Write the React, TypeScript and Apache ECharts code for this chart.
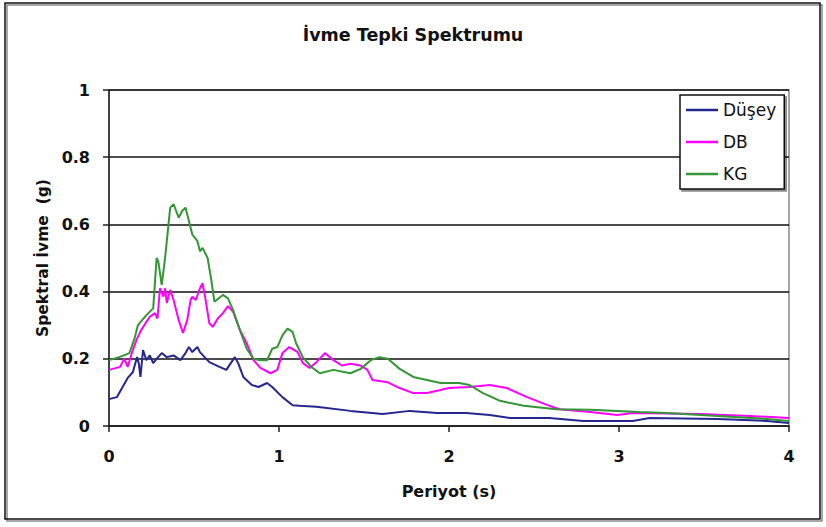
import React, { useEffect, useRef } from "react";
import * as echarts from "echarts";

const titleText = "İvme Tepki Spektrumu";
const xAxisName = "Periyot (s)";
const yAxisName = "Spektral İvme  (g)";
const seriesNames = ["Düşey", "DB", "KG"];
const xTicks = [0, 1, 2, 3, 4];
const yTicks = [0, 0.2, 0.4, 0.6, 0.8, 1];

const dusX = [0.0, 0.047, 0.08, 0.11, 0.14, 0.165, 0.175, 0.185, 0.2, 0.22, 0.24, 0.26, 0.28, 0.31, 0.34, 0.38, 0.42, 0.45, 0.47, 0.49, 0.52, 0.535, 0.59, 0.65, 0.69, 0.74, 0.76, 0.79, 0.84, 0.88, 0.93, 0.96, 1.02, 1.08, 1.12, 1.22, 1.42, 1.61, 1.77, 1.93, 2.1, 2.24, 2.36, 2.59, 2.79, 3.08, 3.18, 3.58, 3.87, 4.0];
const dusY = [0.08, 0.086, 0.116, 0.143, 0.16, 0.205, 0.187, 0.146, 0.226, 0.196, 0.21, 0.187, 0.2, 0.217, 0.205, 0.21, 0.196, 0.217, 0.235, 0.22, 0.235, 0.22, 0.19, 0.176, 0.167, 0.205, 0.187, 0.146, 0.122, 0.116, 0.128, 0.116, 0.086, 0.062, 0.06, 0.057, 0.045, 0.036, 0.045, 0.039, 0.039, 0.033, 0.024, 0.024, 0.015, 0.015, 0.024, 0.021, 0.015, 0.009];

const dbX = [0.0, 0.065, 0.09, 0.11, 0.14, 0.165, 0.19, 0.22, 0.24, 0.27, 0.285, 0.3, 0.32, 0.33, 0.34, 0.36, 0.38, 0.41, 0.435, 0.46, 0.48, 0.49, 0.51, 0.535, 0.55, 0.565, 0.59, 0.61, 0.64, 0.67, 0.7, 0.73, 0.77, 0.81, 0.85, 0.89, 0.95, 0.99, 1.02, 1.06, 1.11, 1.14, 1.18, 1.22, 1.27, 1.32, 1.37, 1.42, 1.48, 1.52, 1.55, 1.64, 1.71, 1.79, 1.87, 1.95, 2.0, 2.12, 2.24, 2.34, 2.46, 2.58, 2.65, 2.83, 2.99, 3.08, 3.48, 3.77, 4.0];
const dbY = [0.167, 0.176, 0.2, 0.176, 0.226, 0.26, 0.286, 0.31, 0.325, 0.336, 0.32, 0.41, 0.385, 0.41, 0.366, 0.405, 0.375, 0.315, 0.277, 0.315, 0.375, 0.385, 0.375, 0.41, 0.425, 0.385, 0.306, 0.295, 0.32, 0.336, 0.357, 0.34, 0.286, 0.247, 0.196, 0.173, 0.157, 0.167, 0.217, 0.235, 0.22, 0.187, 0.173, 0.19, 0.217, 0.196, 0.18, 0.185, 0.18, 0.167, 0.137, 0.13, 0.113, 0.098, 0.098, 0.107, 0.113, 0.116, 0.122, 0.113, 0.086, 0.062, 0.05, 0.042, 0.033, 0.039, 0.036, 0.03, 0.024];

const kgX = [0.0, 0.06, 0.12, 0.15, 0.17, 0.22, 0.26, 0.28, 0.29, 0.31, 0.33, 0.36, 0.38, 0.41, 0.43, 0.45, 0.47, 0.49, 0.52, 0.535, 0.55, 0.58, 0.6, 0.62, 0.67, 0.7, 0.73, 0.77, 0.81, 0.85, 0.89, 0.93, 0.96, 0.99, 1.02, 1.05, 1.08, 1.1, 1.14, 1.19, 1.24, 1.32, 1.42, 1.48, 1.54, 1.59, 1.64, 1.71, 1.79, 1.87, 1.95, 2.06, 2.12, 2.2, 2.3, 2.44, 2.63, 2.83, 2.99, 3.12, 3.28, 3.58, 3.87, 4.0];
const kgY = [0.196, 0.205, 0.217, 0.26, 0.3, 0.33, 0.35, 0.5, 0.49, 0.42, 0.5, 0.65, 0.66, 0.62, 0.64, 0.65, 0.61, 0.57, 0.55, 0.52, 0.53, 0.5, 0.44, 0.37, 0.39, 0.38, 0.345, 0.285, 0.23, 0.2, 0.196, 0.196, 0.23, 0.235, 0.27, 0.29, 0.28, 0.247, 0.205, 0.176, 0.157, 0.167, 0.157, 0.17, 0.196, 0.205, 0.2, 0.17, 0.146, 0.137, 0.128, 0.128, 0.122, 0.098, 0.075, 0.06, 0.05, 0.048, 0.045, 0.042, 0.039, 0.03, 0.021, 0.015];

const colors = ["#26268f", "#ff00ff", "#349634"];

const zip = (xs: number[], ys: number[]) => xs.map((x, i) => [x, ys[i]]);

export default function App() {
  const ref = useRef<HTMLDivElement>(null);
  useEffect(() => {
    if (!ref.current) return;
    const chart = echarts.init(ref.current, undefined, { renderer: "svg" });
    const font = "'DejaVu Sans', Arial, sans-serif";
    const dataSets = [zip(dusX, dusY), zip(dbX, dbY), zip(kgX, kgY)];
    chart.setOption({
      animation: false,
      backgroundColor: "#ffffff",
      title: {
        text: titleText,
        left: "center",
        top: 21,
        textStyle: { fontFamily: font, fontWeight: "bold", fontSize: 17.5, color: "#111" },
      },
      legend: {
        orient: "vertical",
        left: 680,
        top: 95,
        data: seriesNames,
        icon: "rect",
        itemWidth: 32,
        itemHeight: 2.5,
        itemGap: 14,
        padding: [6, 8, 6, 6],
        backgroundColor: "#fff",
        borderColor: "#111",
        borderWidth: 1.5,
        borderRadius: 0,
        shadowColor: "rgba(0,0,0,0.45)",
        shadowOffsetX: 2,
        shadowOffsetY: 2,
        shadowBlur: 1,
        textStyle: { fontFamily: font, fontSize: 17, color: "#111", lineHeight: 18 },
      },
      grid: {
        left: 109,
        right: 37,
        top: 90,
        bottom: 101,
        show: true,
        borderColor: "#888",
        borderWidth: 1.5,
        backgroundColor: "transparent",
      },
      xAxis: {
        type: "value",
        min: xTicks[0],
        max: xTicks[xTicks.length - 1],
        interval: 1,
        name: xAxisName,
        nameLocation: "middle",
        nameGap: 57,
        nameTextStyle: { fontFamily: font, fontWeight: "bold", fontSize: 16, color: "#111" },
        axisLine: { show: true, onZero: false, lineStyle: { color: "#222", width: 1.5 } },
        axisTick: { show: true, inside: false, length: 6, lineStyle: { color: "#222", width: 1.5 } },
        axisLabel: { margin: 22, fontFamily: font, fontWeight: "bold", fontSize: 16, color: "#111" },
        splitLine: { show: false },
      },
      yAxis: {
        type: "value",
        min: yTicks[0],
        max: yTicks[yTicks.length - 1],
        interval: 0.2,
        name: yAxisName,
        nameLocation: "middle",
        nameGap: 57,
        nameTextStyle: { fontFamily: font, fontWeight: "bold", fontSize: 15.5, color: "#111" },
        axisLine: { show: true, onZero: false, lineStyle: { color: "#222", width: 1.5 } },
        axisTick: { show: true, inside: false, length: 6, lineStyle: { color: "#222", width: 1.5 } },
        axisLabel: { margin: 19, fontFamily: font, fontWeight: "bold", fontSize: 16, color: "#111" },
        splitLine: { show: true, lineStyle: { color: "#111", width: 1.5 } },
      },
      graphic: [
        {
          type: "rect",
          shape: { x: 5, y: 3, width: 815, height: 516 },
          style: {
            fill: "none",
            stroke: "#111",
            lineWidth: 1.5,
            shadowColor: "rgba(0,0,0,0.45)",
            shadowOffsetX: 2,
            shadowOffsetY: 2,
            shadowBlur: 1,
          },
          silent: true,
          z: -1,
        },
      ],
      series: seriesNames.map((name, i) => ({
        name,
        type: "line",
        data: dataSets[i],
        symbol: "none",
        showSymbol: false,
        smooth: false,
        lineStyle: { color: colors[i], width: 2 },
        itemStyle: { color: colors[i] },
        z: 3 + i,
      })),
    });
    return () => chart.dispose();
  }, []);
  return (
    <div
      ref={ref}
      style={{ position: "absolute", left: 0, top: 0, width: 826, height: 527, background: "#fff" }}
    />
  );
}
